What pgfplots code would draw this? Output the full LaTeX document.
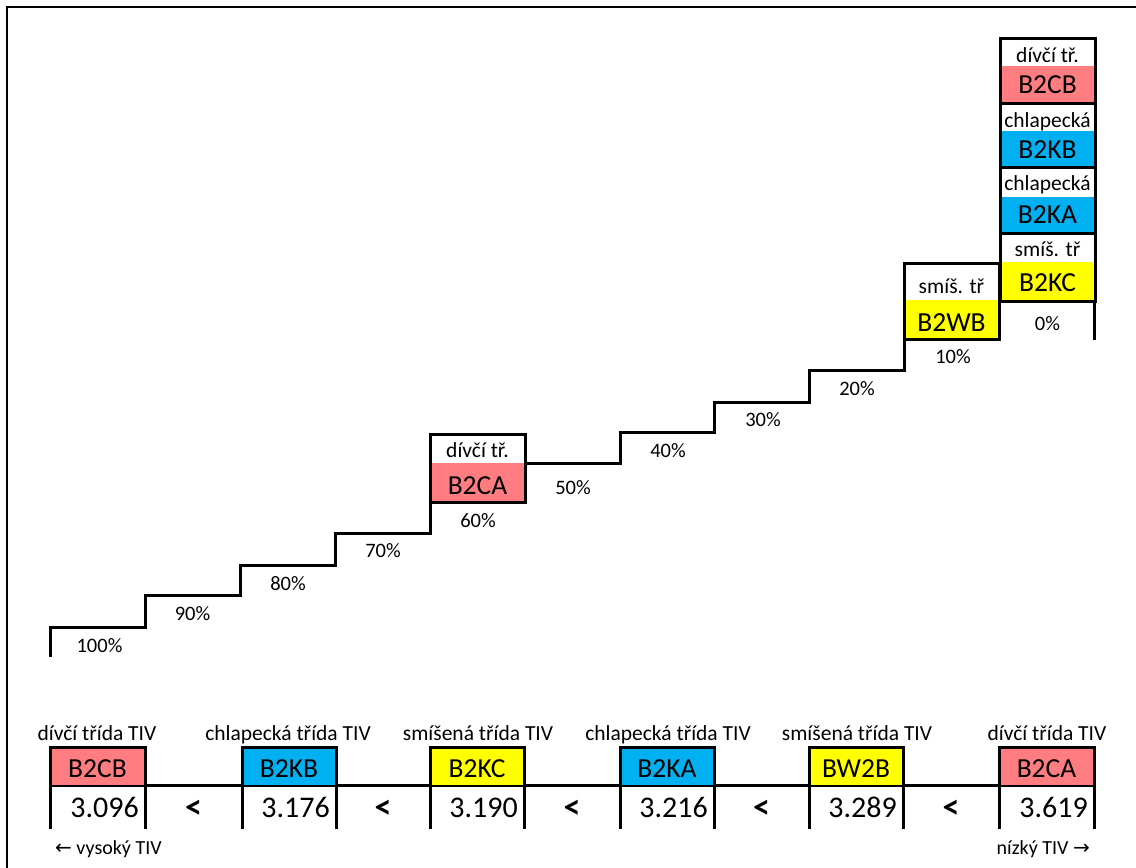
\documentclass[border=0pt]{standalone}
\usepackage{pgfplots}
\pgfplotsset{compat=1.18}
\usepackage{fontspec}
\setmainfont{Carlito}
\newfontfamily\arrowfont{DejaVu Sans}
\definecolor{pinkc}{HTML}{FF7C80}
\definecolor{bluec}{HTML}{00B0F0}
\definecolor{yellowc}{HTML}{FFFF00}
\newcommand{\fs}[1]{\fontsize{#1}{#1}\selectfont}
% stacked box: x1 x2 ytop ysplit ybot color xc label labelbase
\newcommand{\stbox}[9]{%
  \fill[#6] (axis cs:#1,#4) rectangle (axis cs:#2,#5);
  \draw[line width=3pt] (axis cs:#1,#3) rectangle (axis cs:#2,#5);
  \node[font=\fs{21.5}, anchor=base, inner sep=0pt] at (axis cs:#7,#9) {#8};
}
\newcommand{\code}[3]{\node[font=\fs{27.5}, anchor=base, inner sep=0pt] at (axis cs:#1,#2) {#3};}
\newcommand{\pct}[3]{\node[font=\fs{20.5}, anchor=base, inner sep=0pt] at (axis cs:#1,#2) {#3};}
\newcommand{\bbox}[5]{% x1 x2 color numberx number
  \fill[#3] (axis cs:#1,747) rectangle (axis cs:#2,785);
  \draw[line width=3pt] (axis cs:#1,785) -- (axis cs:#1,747) -- (axis cs:#2,747) -- (axis cs:#2,785);
  \draw[line width=3pt] (axis cs:#1,785) -- (axis cs:#1,829);
  \draw[line width=3pt] (axis cs:#2,785) -- (axis cs:#2,829);
  \node[font=\fs{30}, anchor=base east, inner sep=0pt] at (axis cs:#4,817) {#5};
}
\newcommand{\lt}[1]{\node[font=\fs{34}\bfseries, anchor=base, inner sep=0pt] at (axis cs:#1,818) {<};}
\begin{document}
\begin{tikzpicture}
\useasboundingbox (0,0) rectangle (1136pt,868pt);
\begin{axis}[anchor=origin, at={(0pt,868pt)}, scale only axis,
  width=1136pt, height=868pt, xmin=0, xmax=1136, ymin=0, ymax=868,
  y dir=reverse, hide axis, clip=false]
% outer frame
\draw[line width=2.5pt] (axis cs:7,870) -- (axis cs:7,7) -- (axis cs:1140,7);
% staircase
\addplot[const plot mark right, line width=3pt, black, mark=none] coordinates {
 (50,657) (145,627) (240,595) (335,565) (430,533) (525,502) (620,463)
 (714,432) (809,402) (904,370) (999,339) (1094,300) (1094,340)};
% percent labels
\pct{99.5}{652}{100\%}
\pct{192.5}{620}{90\%}
\pct{288}{590}{80\%}
\pct{383}{557}{70\%}
\pct{478}{527}{60\%}
\pct{573}{494}{50\%}
\pct{668}{457}{40\%}
\pct{763}{426}{30\%}
\pct{857}{395}{20\%}
\pct{953}{363}{10\%}
\pct{1047.5}{330}{0\%}
% boxes on the staircase
\stbox{430}{525}{434}{463}{502}{pinkc}{477.5}{dívčí tř.}{457}
\code{477.5}{494}{B2CA}
\stbox{904}{999}{263}{300}{339}{yellowc}{951.5}{smíš. tř}{293}
\code{951.5}{331}{B2WB}
\stbox{1000}{1095}{38}{66}{103}{pinkc}{1047.5}{dívčí tř.}{62}
\code{1047.5}{93}{B2CB}
\stbox{1000}{1095}{103}{131}{167}{bluec}{1047.5}{chlapecká}{127}
\code{1047.5}{158}{B2KB}
\stbox{1000}{1095}{167}{197}{233}{bluec}{1047.5}{chlapecká}{190}
\code{1047.5}{223}{B2KA}
\stbox{1000}{1095}{233}{262}{301}{yellowc}{1047.5}{smíš. tř}{256}
\code{1047.5}{291}{B2KC}
% bottom table
\draw[line width=3pt] (axis cs:50,785) -- (axis cs:1094,785);
\bbox{50}{145}{pinkc}{139}{3.096}
\bbox{242}{336}{bluec}{330}{3.176}
\bbox{430}{524}{yellowc}{518}{3.190}
\bbox{620}{714}{bluec}{708}{3.216}
\bbox{809}{903}{yellowc}{897}{3.289}
\bbox{999}{1094}{pinkc}{1088}{3.619}
\code{97.5}{777}{B2CB}
\code{289}{777}{B2KB}
\code{477}{777}{B2KC}
\code{667}{777}{B2KA}
\code{856}{777}{BW2B}
\code{1046.5}{777}{B2CA}
\lt{193.5}\lt{383}\lt{572}\lt{761.5}\lt{951}
\node[font=\fs{21.5}, anchor=base, inner sep=0pt] at (axis cs:97,740) {dívčí třída TIV};
\node[font=\fs{21.5}, anchor=base, inner sep=0pt] at (axis cs:288,740) {chlapecká třída TIV};
\node[font=\fs{21.5}, anchor=base, inner sep=0pt] at (axis cs:478,740) {smíšená třída TIV};
\node[font=\fs{21.5}, anchor=base, inner sep=0pt] at (axis cs:668,740) {chlapecká třída TIV};
\node[font=\fs{21.5}, anchor=base, inner sep=0pt] at (axis cs:857,740) {smíšená třída TIV};
\node[font=\fs{21.5}, anchor=base, inner sep=0pt] at (axis cs:1047,740) {dívčí třída TIV};
\node[font=\fs{20}, anchor=base west, inner sep=0pt] at (axis cs:55,854) {{\arrowfont ←} vysoký TIV};
\node[font=\fs{20}, anchor=base east, inner sep=0pt] at (axis cs:1090,854) {nízký TIV {\arrowfont →}};
\end{axis}
\end{tikzpicture}
\end{document}
